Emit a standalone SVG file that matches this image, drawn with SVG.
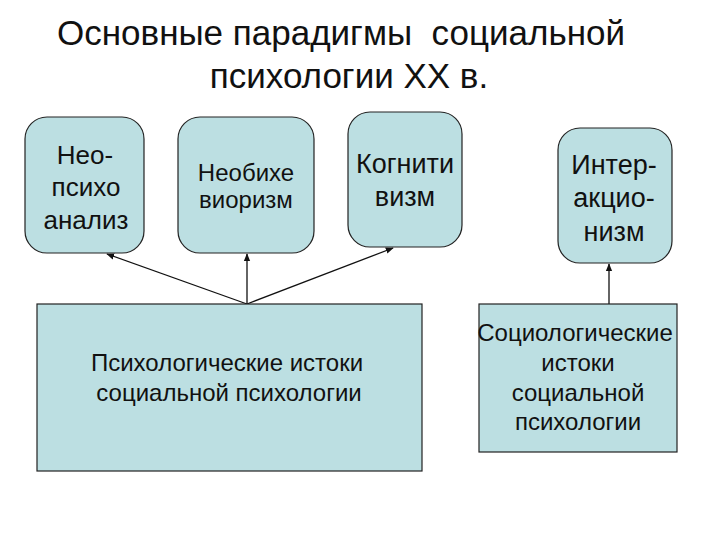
<svg xmlns="http://www.w3.org/2000/svg" width="720" height="540" viewBox="0 0 720 540">
<style>
text{font-family:"Liberation Sans",Arial,sans-serif;fill:#111;text-anchor:middle}
.box{fill:#BCDFE2;stroke:#222;stroke-width:1.2}
.t{font-size:35px;white-space:pre}
.b{font-size:26px}
.k{font-size:27px}
.s{font-size:24px}
.m{font-size:24px}
.c{stroke:#111;stroke-width:1.3;fill:none;marker-end:url(#ah)}
</style>
<defs>
<marker id="ah" viewBox="0 0 10 10" refX="9" refY="5" markerWidth="8" markerHeight="8" orient="auto" markerUnits="userSpaceOnUse">
<path d="M0,1 L10,5 L0,9 z" fill="#111"/>
</marker>
</defs>
<rect width="720" height="540" fill="#fff"/>
<g id="title">
<text class="t" x="341" y="45" xml:space="preserve">Основные парадигмы  социальной</text>
<text class="t" x="349" y="88">психологии ХХ в.</text>
</g>
<g id="connectors">
<line class="c" x1="247" y1="304" x2="107" y2="254"/>
<line class="c" x1="247" y1="304" x2="247" y2="254"/>
<line class="c" x1="247" y1="304" x2="393" y2="248"/>
<line class="c" x1="609" y1="304" x2="609" y2="264"/>
</g>
<g id="neo">
<rect class="box" x="25" y="117" width="119" height="136" rx="22"/>
<text class="b" x="85" y="164">Нео-</text>
<text class="b" x="86" y="196">психо</text>
<text class="b" x="86" y="229">анализ</text>
</g>
<g id="neobeh">
<rect class="box" x="178" y="117" width="136" height="136" rx="22"/>
<text class="s" x="246" y="181">Необихе</text>
<text class="s" x="246" y="208">виоризм</text>
</g>
<g id="cog">
<rect class="box" x="348" y="112" width="114" height="135" rx="22"/>
<text class="k" x="405" y="173">Когнити</text>
<text class="k" x="405" y="206">визм</text>
</g>
<g id="inter">
<rect class="box" x="558" y="128" width="114" height="135" rx="22"/>
<text class="k" x="614" y="174">Интер-</text>
<text class="k" x="614" y="207">акцио-</text>
<text class="k" x="614" y="241">низм</text>
</g>
<g id="psy">
<rect class="box" x="37" y="304" width="385" height="167"/>
<text class="m" x="227" y="371">Психологические истоки</text>
<text class="m" x="229" y="401">социальной психологии</text>
</g>
<g id="soc">
<rect class="box" x="479" y="304" width="198" height="148"/>
<text class="m" x="575" y="341">Социологические</text>
<text class="m" x="578" y="371">истоки</text>
<text class="m" x="578" y="401">социальной</text>
<text class="m" x="578" y="430">психологии</text>
</g>
</svg>
